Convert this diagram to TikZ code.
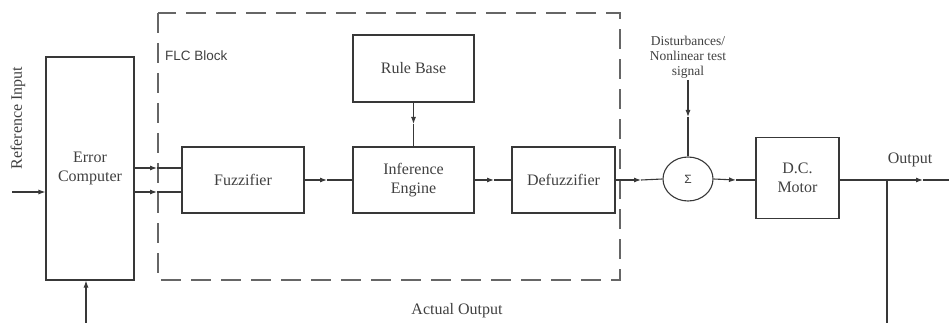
\documentclass[tikz,border=0pt]{standalone}
\usepackage{fontspec}
\setmainfont{Liberation Serif}
\newfontfamily\arialfont{Liberation Sans}
\usetikzlibrary{arrows.meta,shapes.geometric}
\definecolor{ln}{HTML}{383838}
\definecolor{tx}{HTML}{404040}
\definecolor{dsh}{HTML}{666666}
\begin{document}
\begin{tikzpicture}[x=1pt,y=-1pt,
  blk/.style={draw=ln,line width=1.1pt,rectangle,inner sep=0pt,align=center,text=tx,font=\fontsize{16}{19}\selectfont},
  lbl/.style={text=tx,inner sep=0pt,align=center,font=\fontsize{16}{19}\selectfont},
  wire/.style={draw=ln,line width=1.1pt},
  arr/.style={wire,-{Latex[length=7pt,width=5pt]}}]
\useasboundingbox (0,0) rectangle (949,323);
% FLC dashed box
\draw[dsh,line width=1.6pt,dash pattern=on 20pt off 10pt] (158,13) rectangle (620,280);
\node[text=tx,inner sep=0pt,anchor=west,font=\arialfont\fontsize{13.5}{16}\selectfont] (flc) at (165,56) {FLC Block};
% blocks
\node[blk,minimum width=88pt,minimum height=223pt] (ec) at (90,168.5) {Error\\Computer};
\node[blk,minimum width=122pt,minimum height=66pt] (fz) at (243,180) {Fuzzifier};
\node[blk,minimum width=121pt,minimum height=66pt] (ie) at (413.5,180) {Inference\\Engine};
\node[blk,minimum width=121pt,minimum height=67pt] (rb) at (413.5,68.5) {Rule Base};
\node[blk,minimum width=103pt,minimum height=66pt] (df) at (563.5,180) {Defuzzifier};
\node[draw=ln,line width=1.1pt,ellipse,minimum width=50pt,minimum height=44pt,inner sep=0pt,text=tx,font=\arialfont\fontsize{12}{14}\selectfont] (sm) at (688,179) {Σ};
\node[blk,minimum width=83pt,minimum height=81pt] (dc) at (797.5,178) {D.C.\\Motor};
% labels
\node[lbl,rotate=90] (ri) at (18,118) {Reference Input};
\node[lbl,font=\fontsize{13.5}{15}\selectfont] (dist) at (688,57) {Disturbances/\\Nonlinear test\\signal};
\node[lbl] (out) at (910,160) {Output};
\node[lbl] (ao) at (457,311) {Actual Output};
% coordinates
\coordinate (riS) at (12,192);
\coordinate (fbS) at (86,323);
\coordinate (e1) at (157,168);
\coordinate (e2) at (157,192);
\coordinate (m1) at (327,180);
\coordinate (m2) at (494,180);
\coordinate (m3) at (641,180);
\coordinate (m4) at (736,180);
\coordinate (dtop) at (688,80);
\coordinate (dmid) at (688,117);
\coordinate (oEnd) at (949,180);
\coordinate (oArr) at (923,180);
\coordinate (tap) at (887,180);
\coordinate (tapB) at (887,323);
% connectors
\draw[arr] (riS) -- (ec.west |- riS);
\draw[arr] (fbS) -- (ec.south -| fbS);
\draw[arr] (ec.east |- e1) -- (e1);
\draw[wire] (e1) -- (fz.west |- e1);
\draw[arr] (ec.east |- e2) -- (e2);
\draw[wire] (e2) -- (fz.west |- e2);
\draw[arr] (fz.east |- m1) -- (m1);
\draw[wire] (m1) -- (ie.west |- m1);
\draw[arr] (rb.south) -- (rb.south |- 0,124);
\draw[wire] (rb.south |- 0,124) -- (ie.north);
\draw[arr] (ie.east |- m2) -- (m2);
\draw[wire] (m2) -- (df.west |- m2);
\draw[arr] (df.east |- m3) -- (m3);
\draw[wire] (m3) -- (sm.west);
\draw[arr] (dtop) -- (dmid);
\draw[wire] (dmid) -- (sm.north);
\draw[arr] (sm.east) -- (m4);
\draw[wire] (m4) -- (dc.west |- m4);
\draw[arr] (dc.east |- oArr) -- (oArr);
\draw[wire] (oArr) -- (oEnd);
\draw[wire] (tap) -- (tapB);
\end{tikzpicture}
\end{document}
